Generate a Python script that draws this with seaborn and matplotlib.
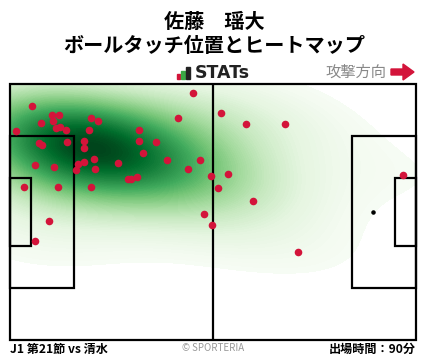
import numpy as np
import pandas as pd
import matplotlib
matplotlib.use("Agg")
import matplotlib.pyplot as plt
from matplotlib.patches import Rectangle, Polygon
import seaborn as sns

# ---------------- data (pitch metres, x: 0-105 attack to right, y: 0-68 from top) -------------
touch_x = [5.77, 47.40, 10.94, 12.75, 11.20, 8.09, 1.63, 21.02, 22.83, 43.52,
           54.64, 61.11, 71.19, 11.97, 13.06, 14.56, 20.51, 33.44, 33.44, 37.83,
           19.21, 14.82, 7.58, 8.35, 19.21, 34.47, 40.68, 49.08, 21.80, 19.21,
           17.66, 28.01, 6.54, 11.46, 17.15, 22.06, 46.11, 52.06, 56.45, 30.59,
           31.37, 32.92, 3.70, 12.49, 21.02, 53.87, 62.92, 50.25, 52.32, 10.16,
           6.54, 74.56, 101.71]
touch_y = [5.92, 2.47, 8.23, 8.23, 9.75, 10.44, 12.48, 9.11, 9.91, 9.11,
           7.78, 10.70, 10.70, 11.77, 11.50, 12.30, 12.30, 12.30, 15.01, 15.49,
           15.01, 15.49, 15.67, 16.28, 17.08, 18.41, 20.27, 20.27, 20.00, 20.80,
           21.33, 21.06, 21.59, 22.12, 22.92, 22.66, 22.66, 24.52, 23.98, 25.31,
           25.31, 24.78, 27.44, 27.44, 27.44, 27.70, 31.16, 34.61, 37.53, 36.39,
           41.78, 44.70, 24.25]

player = "佐藤　瑶大"
subtitle = "ボールタッチ位置とヒートマップ"
match_label = "J1 第21節 vs 清水"
minutes_label = "出場時間：90分"
credit = "© SPORTERIA"
direction_label = "攻撃方向"

df = pd.DataFrame({"x": touch_x, "y": touch_y})

# ---------------- figure -------------
W, H = 428, 359
fig = plt.figure(figsize=(W / 100, H / 100), dpi=100)
plt.rcParams['font.family'] = ['Noto Sans CJK JP', 'DejaVu Sans']

def fx(px):
    return px / W

def fy(py):
    return 1 - py / H

ax = fig.add_axes([fx(10), fy(340), (416 - 10) / W, (340 - 84) / H])

sns.kdeplot(data=df, x="x", y="y", fill=True, cmap="Greens", levels=100,
            thresh=0.025, bw_adjust=1.65, clip=((0, 105), (0, 68)), ax=ax, zorder=1)

lc = "black"
lw = 1.6
def rect(x0, y0, w, h):
    ax.add_patch(Rectangle((x0, y0), w, h, fill=False, ec=lc, lw=lw, zorder=3,
                           clip_on=False))

rect(0, 0, 105, 68)
ax.plot([52.5, 52.5], [0, 68], color=lc, lw=lw, zorder=3)
rect(0, 13.84, 16.5, 40.32)
rect(0, 24.84, 5.5, 18.32)
rect(105 - 16.5, 13.84, 16.5, 40.32)
rect(105 - 5.5, 24.84, 5.5, 18.32)
ax.scatter([94], [34], s=5, color="black", zorder=3)

sns.scatterplot(data=df, x="x", y="y", color="#d3143a", s=30, linewidth=0,
                ax=ax, zorder=4, legend=False)
ax.set_xlim(0, 105)
ax.set_ylim(68, 0)
ax.axis("off")

# ---------------- texts -------------
fig.text(0.5, fy(21), player, ha="center", va="center", fontsize=14.5,
         fontweight="bold")
fig.text(0.5, fy(46), subtitle, ha="center", va="center", fontsize=14.5,
         fontweight="bold")

# STATs logo
for (x0, y0, x1, y1, c) in [(177, 74, 180, 79, "#d3143a"), (181, 71, 185, 79, "#3aa845"),
                            (186, 67, 190, 79, "#222222")]:
    fig.patches.append(Rectangle((fx(x0), fy(y1)), (x1 - x0) / W, (y1 - y0) / H,
                                 transform=fig.transFigure, color=c))
fig.text(fx(195), fy(73.5), "STATs", ha="left", va="center", fontsize=12.5,
         fontweight="bold", family="DejaVu Sans", color="#222222")

fig.text(fx(386), fy(72), direction_label, ha="right", va="center", fontsize=11,
         color="#888888")
arrow = [(391, 69), (403, 69), (403, 64), (414, 72), (403, 80), (403, 75), (391, 75)]
fig.patches.append(Polygon([(fx(a), fy(b)) for a, b in arrow], closed=True,
                           transform=fig.transFigure, color="#d3143a"))

fig.text(fx(10), fy(349), match_label, ha="left", va="center", fontsize=8.7,
         fontweight="bold")
fig.text(fx(213), fy(348), credit, ha="center", va="center", fontsize=7,
         color="#999999")
fig.text(fx(416), fy(349), minutes_label, ha="right", va="center", fontsize=8.7,
         fontweight="bold")

fig.savefig("out.png", dpi=100)
